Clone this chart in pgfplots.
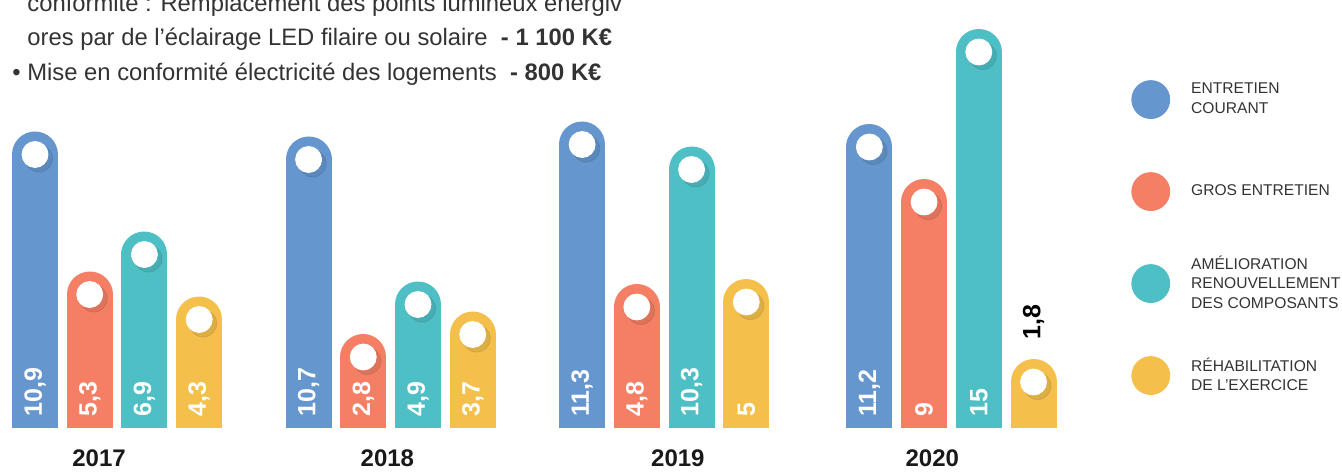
\documentclass[border=0pt]{standalone}
\usepackage{pgfplots}
\pgfplotsset{compat=1.18}
\usepackage{fontspec}
\setmainfont{Liberation Sans}
\definecolor{cblue}{HTML}{6597CE}
\definecolor{corange}{HTML}{F47F65}
\definecolor{cteal}{HTML}{4FBFC6}
\definecolor{cyellow}{HTML}{F4C04B}
\definecolor{ctext}{HTML}{333333}
% 1 px of the reference = 0.5pt
\begin{document}
\begin{tikzpicture}
\path[use as bounding box, clip] (0,0) rectangle (671pt,235.5pt);
\begin{axis}[
  at={(0pt,22pt)}, anchor=south west,
  scale only axis, width=540pt, height=213.5pt,
  xmin=-0.64, xmax=19.1, ymin=0, ymax=17.08,
  axis line style={draw=none}, major tick length=0pt,
  ytick=\empty,
  xtick={1.17,6.44,11.75,16.4},
  xticklabels={2017,2018,2019,2020},
  xticklabel style={anchor=base, yshift=-19.5pt, text=black!90,
    font=\bfseries\fontsize{12pt}{12pt}\selectfont},
  bar/.style={ycomb, mark=none, line width=23pt, line cap=round, forget plot},
  legend cell align=left,
  legend style={at={(1.0472,0.838)}, anchor=north west, draw=none, fill=none,
    inner sep=0pt, row sep=16pt, column sep=10.5pt,
    nodes={align=left, inner sep=0pt, text=ctext, minimum height=30pt,
      font=\fontsize{7.8pt}{9.75pt}\selectfont}},
]
% bars
\addplot[bar, draw=cblue]   coordinates {(0,10.9) (5,10.7) (10,11.3) (15.25,11.2)};
\addplot[bar, draw=corange] coordinates {(1,5.3) (6,2.8) (11,4.8) (16.25,9)};
\addplot[bar, draw=cteal]   coordinates {(2,6.9) (7,4.9) (12,10.3) (17.25,15)};
\addplot[bar, draw=cyellow] coordinates {(3,4.3) (8,3.7) (13,5) (18.25,1.8)};
% shadows and white dots
\addplot[only marks, mark=*, mark size=6.8pt, forget plot,
  mark options={draw=black, fill=black, opacity=0.09, xshift=2pt, yshift=-2pt}]
  coordinates {(0,10.9) (5,10.7) (10,11.3) (15.25,11.2)
               (1,5.3) (6,2.8) (11,4.8) (16.25,9)
               (2,6.9) (7,4.9) (12,10.3) (17.25,15)
               (3,4.3) (8,3.7) (13,5) (18.25,1.8)};
\addplot[only marks, mark=*, mark size=6.5pt, forget plot,
  mark options={draw=white, fill=white}]
  coordinates {(0,10.9) (5,10.7) (10,11.3) (15.25,11.2)
               (1,5.3) (6,2.8) (11,4.8) (16.25,9)
               (2,6.9) (7,4.9) (12,10.3) (17.25,15)
               (3,4.3) (8,3.7) (13,5) (18.25,1.8)};
% value labels
\addplot[draw=none, mark=none, forget plot, nodes near coords, point meta=explicit symbolic,
  nodes near coords style={rotate=90, anchor=west, text=white, inner xsep=5pt, inner ysep=0pt,
    font=\bfseries\fontsize{12.5pt}{12.5pt}\selectfont}]
  coordinates {(0,0) [10,9] (5,0) [10,7] (10,0) [11,3] (15.25,0) [11,2]
               (1,0) [5,3] (6,0) [2,8] (11,0) [4,8] (16.25,0) [9]
               (2,0) [6,9] (7,0) [4,9] (12,0) [10,3] (17.25,0) [15]
               (3,0) [4,3] (8,0) [3,7] (13,0) [5]};
\addplot[draw=none, mark=none, forget plot, nodes near coords, point meta=explicit symbolic,
  nodes near coords style={rotate=90, anchor=west, text=black, inner xsep=21pt, inner ysep=0pt,
    font=\bfseries\fontsize{12.5pt}{12.5pt}\selectfont}]
  coordinates {(18.25,1.8) [1,8]};
% legend
\addlegendimage{legend image code/.code={\fill[cblue] (9.5pt,0) circle (9.5pt);}}
\addlegendentry{ENTRETIEN\\COURANT}
\addlegendimage{legend image code/.code={\fill[corange] (9.5pt,0) circle (9.5pt);}}
\addlegendentry{GROS ENTRETIEN}
\addlegendimage{legend image code/.code={\fill[cteal] (9.5pt,0) circle (9.5pt);}}
\addlegendentry{AMÉLIORATION\\RENOUVELLEMENT\\DES COMPOSANTS}
\addlegendimage{legend image code/.code={\fill[cyellow] (9.5pt,0) circle (9.5pt);}}
\addlegendentry{RÉHABILITATION\\DE L’EXERCICE}
\end{axis}
\begin{scope}[every node/.style={anchor=base west, inner sep=0pt, text=ctext,
    font=\fontsize{11.9pt}{14pt}\selectfont}]
\node at (13.5pt,{(471-12)*0.5pt}) {conformité : Remplacement des points lumineux énergiv};
\node at (13.5pt,{(471-46)*0.5pt}) {ores par de l'éclairage LED filaire ou solaire\ \ \textbf{- 1 100 K€}};
\node at (6pt,{(471-81)*0.5pt}) {• Mise en conformité électricité des logements\ \ \textbf{- 800 K€}};
\end{scope}
\end{tikzpicture}
\end{document}
